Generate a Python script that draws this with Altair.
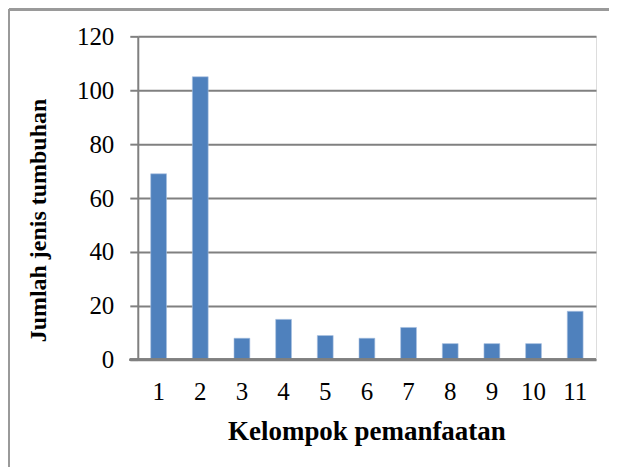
import altair as alt
import pandas as pd

categories = ["1", "2", "3", "4", "5", "6", "7", "8", "9", "10", "11"]
values = [69, 105, 8, 15, 9, 8, 12, 6, 6, 6, 18]
y_ticks = [0, 20, 40, 60, 80, 100, 120]

df = pd.DataFrame({"kelompok": categories, "jumlah": values})

FONT = "Liberation Serif"
GRID = "#808080"

bars = alt.Chart(df).mark_bar(color="#4F81BD", stroke="#A9C1E0", strokeWidth=0.6).encode(
    x=alt.X(
        "kelompok:O",
        sort=categories,
        scale=alt.Scale(paddingInner=0.62, paddingOuter=0.31),
        axis=alt.Axis(
            title="Kelompok pemanfaatan",
            labelAngle=0,
            ticks=False,
            domain=False,
            labelPadding=20,
            labelFont=FONT,
            labelFontSize=25,
            labelColor="#000000",
            titleFont=FONT,
            titleFontSize=27,
            titleFontWeight="bold",
            titleColor="#000000",
            titleX=229,
            titleY=72,
            titleAlign="center",
            titleBaseline="middle",
        ),
    ),
    y=alt.Y(
        "jumlah:Q",
        scale=alt.Scale(domain=[0, 120], nice=False),
        axis=alt.Axis(
            title="Jumlah jenis tumbuhan",
            values=y_ticks,
            grid=True,
            gridColor=GRID,
            gridWidth=2,
            domain=True,
            domainColor=GRID,
            domainWidth=2,
            ticks=True,
            tickSize=8,
            tickColor=GRID,
            tickWidth=2,
            labelPadding=16,
            labelFont=FONT,
            labelFontSize=25,
            labelColor="#000000",
            titleFont=FONT,
            titleFontSize=24,
            titleFontWeight="bold",
            titleColor="#000000",
            titleAngle=-90,
            titleX=-99,
            titleY=184,
            titleAlign="center",
            titleBaseline="middle",
        ),
    ),
)

x_axis_line = alt.Chart(df).mark_rule(color=GRID, strokeWidth=2).encode(
    x=alt.value(-8), x2=alt.value(459), y=alt.value(324)
)

border_top = alt.Chart(df).mark_rule(color="#9A9A9A", strokeWidth=2).encode(
    x=alt.value(-129), x2=alt.value(490), y=alt.value(-27)
)
border_left = alt.Chart(df).mark_rule(color="#9A9A9A", strokeWidth=2).encode(
    x=alt.value(-129), y=alt.value(-27), y2=alt.value(460)
)

chart = (
    alt.layer(bars, x_axis_line, border_top, border_left)
    .properties(
        width=459,
        height=324,
        autosize=alt.AutoSizeParams(type="none"),
        padding={"left": 130, "top": 28, "right": 13, "bottom": 107},
    )
    .configure_view(stroke=None)
    .configure(background="#ffffff")
)

chart.save("out.html", embed_options={"renderer": "svg", "actions": False})
